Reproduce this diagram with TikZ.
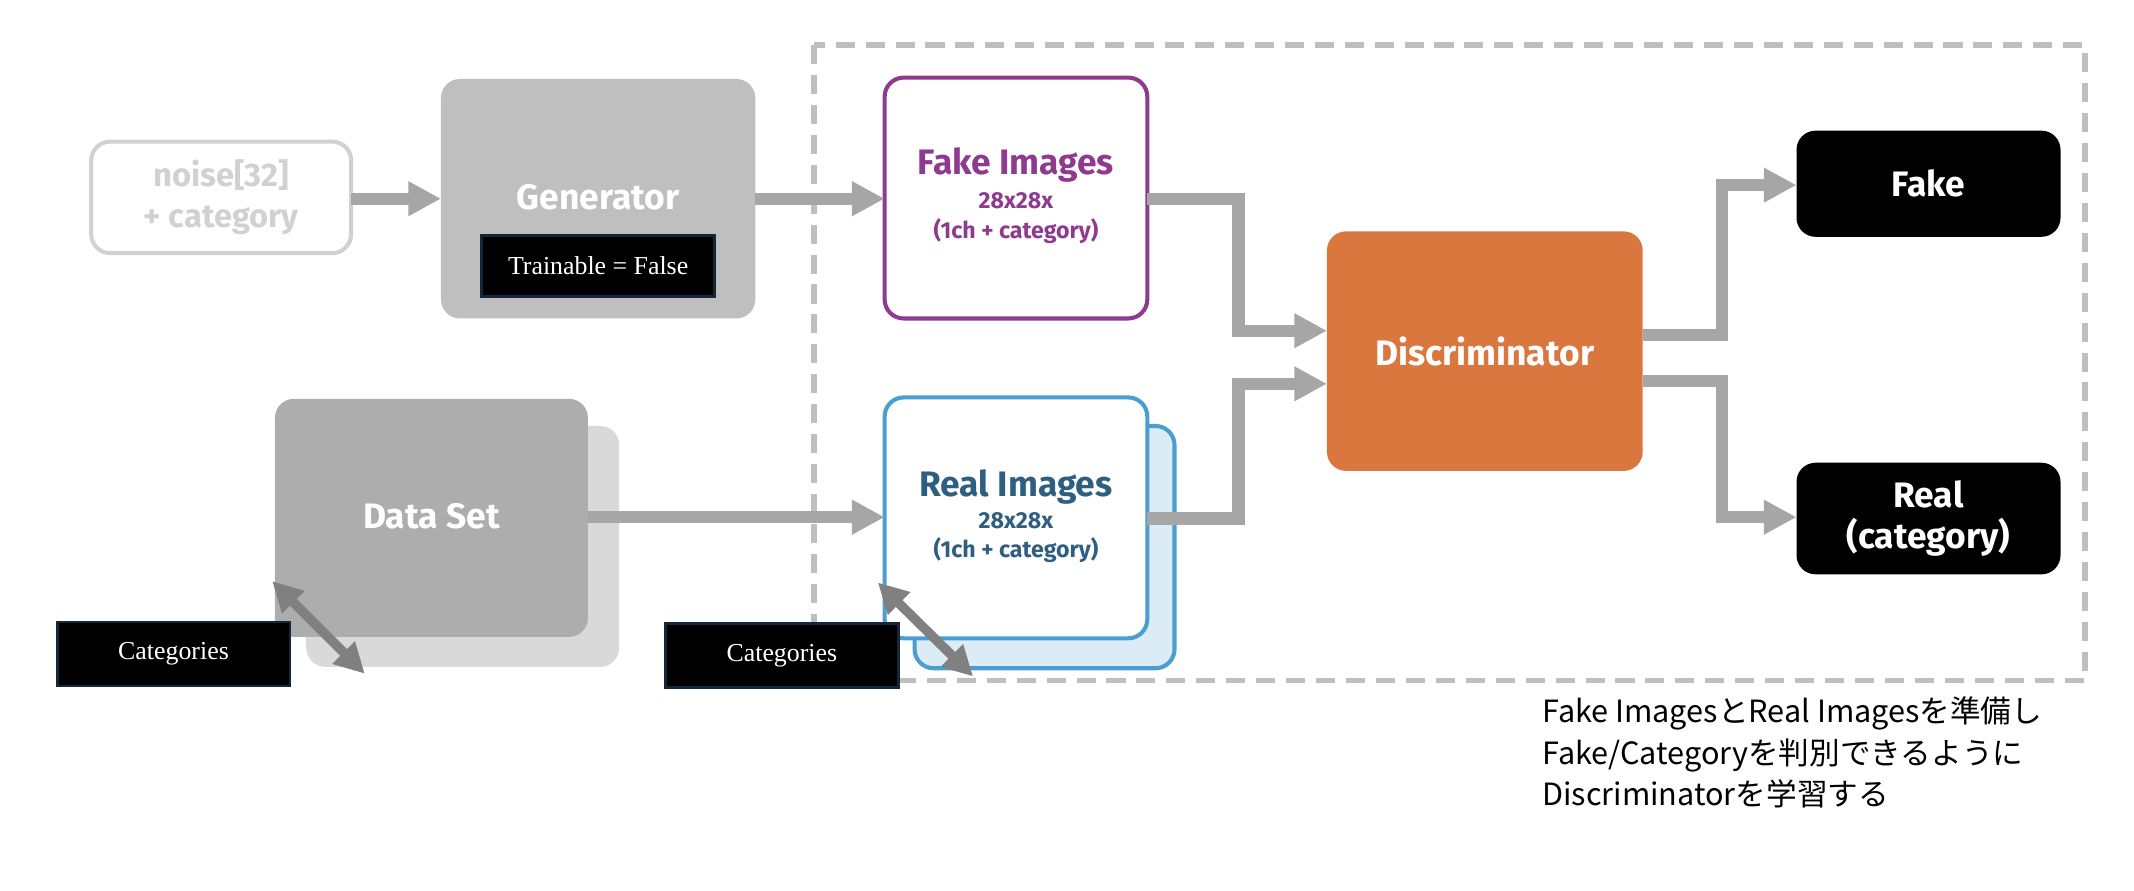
\documentclass[tikz,border=0pt]{standalone}
\usepackage{fontspec}
\setmainfont{Fira Sans}
\newfontfamily\serifx{Liberation Serif}
\newfontfamily\cjk{Noto Sans CJK JP}
\usetikzlibrary{arrows.meta}
\definecolor{arr}{HTML}{A6A6A6}
\definecolor{darr}{HTML}{808080}
\definecolor{purp}{HTML}{8E3A8E}
\definecolor{realc}{HTML}{2E5F80}
\definecolor{realb}{HTML}{4A9FD0}
\definecolor{orng}{HTML}{D9773F}
\definecolor{navy}{HTML}{13263A}
\begin{document}
\begin{tikzpicture}[x=1pt,y=-1pt,
  box/.style={rounded corners=14pt,inner sep=0pt},
  flow/.style={draw=arr,line width=9pt,-{Triangle[length=24pt,width=24pt]}},
  dbl/.style={draw=darr,line width=7pt,{Triangle[length=22pt,width=22pt]}-{Triangle[length=22pt,width=22pt]}},
  cat/.style={fill=black,draw=navy,line width=2pt,text=white,font=\serifx\fontsize{19}{20}\selectfont,minimum width=171pt,minimum height=47pt,inner sep=0pt},
  big/.style={font=\bfseries\fontsize{26}{30}\selectfont},
  sm/.style={font=\bfseries\fontsize{17}{22}\selectfont}]
\useasboundingbox (0,0) rectangle (1568,654);
\draw[draw=black!25,line width=4pt,dash pattern=on 14pt off 8pt] (598,33) rectangle (1532,500);
% noise
\node[box,draw=black!18,line width=3pt,minimum width=191pt,minimum height=82pt,text=black!18,align=center,font=\bfseries\fontsize{24}{30}\selectfont] (noise) at (162.5,145) {noise[32]\\+ category};
% generator
\node[box,fill=black!25,minimum width=231pt,minimum height=176pt] (gen) at (439.5,146) {};
\node[text=white,big] (gent) at (439.5,145) {Generator};
\node[fill=black,draw=navy,line width=2pt,text=white,font=\serifx\fontsize{19}{20}\selectfont,minimum width=171pt,minimum height=45pt,inner sep=0pt] (train) at (439.5,195.5) {Trainable = False};
% fake images
\node[box,draw=purp,line width=3pt,minimum width=193pt,minimum height=177pt,fill=white] (fake) at (746.5,145.5) {};
\node[text=purp,big] (fk1) at (746.5,121) {Fake Images};
\node[text=purp,sm,align=center] (fk2) at (746.5,160) {28x28x\\(1ch + category)};
% data set
\node[box,fill=black!15,minimum width=230pt,minimum height=177pt] (dsb) at (340,401.5) {};
\node[box,fill=black!32,minimum width=230pt,minimum height=175pt] (ds) at (317,380.5) {};
\node[text=white,big] (dst) at (317,379) {Data Set};
\node[cat] (cat1) at (127.5,480.5) {Categories};
% real images
\node[box,fill=realb!20,draw=realb,line width=3pt,minimum width=191pt,minimum height=178pt] (rib) at (767.5,402) {};
\node[box,fill=white,draw=realb,line width=3pt,minimum width=193pt,minimum height=177pt] (real) at (746.5,380.5) {};
\node[text=realc,big] (rl1) at (746.5,358) {Real Images};
\node[text=realc,sm,align=center] (rl2) at (746.5,395) {28x28x\\(1ch + category)};
\node[cat] (cat2) at (574.5,481.5) {Categories};
% discriminator
\node[box,fill=orng,minimum width=232pt,minimum height=176pt,text=white,big] (disc) at (1091,258) {Discriminator};
% outputs
\node[box,fill=black,minimum width=194pt,minimum height=78pt,text=white,big] (ofake) at (1417,135) {Fake};
\node[box,fill=black,minimum width=194pt,minimum height=82pt,text=white,big,align=center] (oreal) at (1417,381) {Real\\(category)};
% arrows
\coordinate (a1) at (258,146); \coordinate (b1) at (324,146);
\draw[flow] (a1) -- (b1);
\coordinate (a2) at (555,146); \coordinate (b2) at (650,146);
\draw[flow] (a2) -- (b2);
\coordinate (a3) at (432,380); \coordinate (b3) at (650,380);
\draw[flow] (a3) -- (b3);
\coordinate (f0) at (843,146); \coordinate (f1) at (975,243);
\draw[flow] (f0) -- (910,146) -- (910,243) -- (f1);
\coordinate (r0) at (843,381); \coordinate (r1) at (975,282);
\draw[flow] (r0) -- (910,381) -- (910,282) -- (r1);
\coordinate (d0) at (1207,246); \coordinate (d1) at (1320,136);
\draw[flow] (d0) -- (1265,246) -- (1265,136) -- (d1);
\coordinate (e0) at (1207,280); \coordinate (e1) at (1320,380);
\draw[flow] (e0) -- (1265,280) -- (1265,380) -- (e1);
\coordinate (c1a) at (200,427); \coordinate (c1b) at (268,495);
\draw[dbl] (c1a) -- (c1b);
\coordinate (c2a) at (645,428); \coordinate (c2b) at (715,497);
\draw[dbl] (c2a) -- (c2b);
% caption
\node[anchor=north west,align=left,font=\cjk\fontsize{22.5}{30.5}\selectfont,inner sep=0pt] (cap) at (1133,512) {Fake ImagesとReal Imagesを準備し\\Fake/Categoryを判別できるように\\Discriminatorを学習する};
\end{tikzpicture}
\end{document}
